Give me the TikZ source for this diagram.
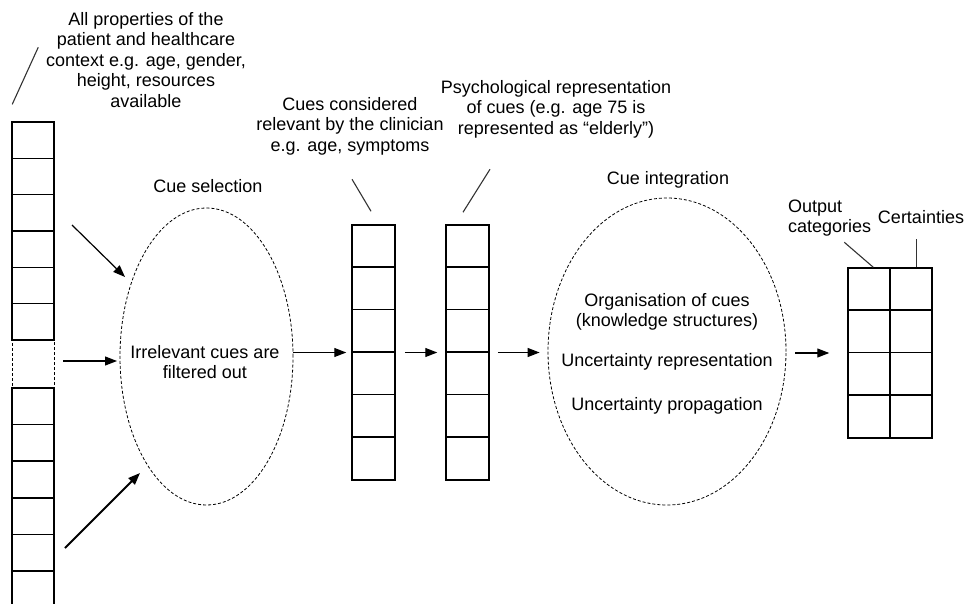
\documentclass[tikz,border=0pt]{standalone}
\usepackage{fontspec}
\setmainfont{Liberation Sans}
\usetikzlibrary{shapes.geometric,arrows.meta}
\tikzset{
	cell/.style={draw,line width=1.5pt},
	cue/.style={ellipse,draw,line width=0.8pt,dash pattern=on 3pt off 2pt},
	txt/.style={align=center,inner sep=0pt,font=\fontsize{18}{20.5}\selectfont},
	flow/.style={-{Triangle[length=12pt,width=9pt]},line width=1.2pt},
	lead/.style={line width=1.1pt,black!80},
}
\begin{document}
\begin{tikzpicture}[x=1pt,y=-1pt]
	\useasboundingbox (0,0) rectangle (968,604);
	\node[draw,line width=0.8pt,dash pattern=on 3pt off 2pt,minimum width=42pt,minimum height=48pt] (gap) at (33,364) {};
	\foreach \i in {0,...,5}
	\node[cell,minimum width=42pt,minimum height=36.3pt] (p\i) at (33,{140.2+36.3*\i}) {};
	\foreach \i in {0,...,5}
	\node[cell,minimum width=42pt,minimum height=36.6pt] (q\i) at (33,{406.3+36.6*\i}) {};
	\node[cue,minimum width=173pt,minimum height=297pt] (sel) at (206.5,356.5) {};
	\node[cue,minimum width=238pt,minimum height=307pt] (integ) at (667,351.5) {};
	\node[cell,minimum width=43pt,minimum height=255pt] (rel) at (373.5,352.5) {};
	\node[cell,minimum width=43pt,minimum height=255pt] (psy) at (467.5,352.5) {};
	\foreach \k in {1,...,5}{
		\draw[cell] (rel.north west) ++(0,{42.5*\k}) -- ++(43,0);
		\draw[cell] (psy.north west) ++(0,{42.5*\k}) -- ++(43,0);
	}
	\node[cell,minimum width=84pt,minimum height=170pt] (out) at (890,353) {};
	\draw[cell] (out.north) -- (out.south);
	\foreach \k in {1,2,3}
	\draw[cell] (out.north west) ++(0,{42.5*\k}) -- ++(84,0);
	\node[txt] (all) at (146,60) {All properties of the\\patient and healthcare\\context e.g. age, gender,\\height, resources\\available};
	\node[txt] (selt) at (208,186) {Cue selection};
	\node[txt] (filt) at (205,362) {Irrelevant cues are\\filtered out};
	\node[txt] (relt) at (350,126) {Cues considered\\relevant by the clinician\\e.g. age, symptoms};
	\node[txt] (psyt) at (556,109) {Psychological representation\\of cues (e.g. age 75 is\\represented as ``elderly'')};
	\node[txt] (intt) at (668,180) {Cue integration};
	\node[txt] (org) at (667,312) {Organisation of cues\\(knowledge structures)};
	\node[txt] (unr) at (667,362) {Uncertainty representation};
	\node[txt] (unp) at (667,406) {Uncertainty propagation};
	\node[txt,align=left,anchor=west] (cat) at (788,218) {Output\\categories};
	\node[txt] (cer) at (921,217) {Certainties};
	\coordinate (s1) at (72,225);
	\coordinate (e1) at (125,277);
	\coordinate (s2) at (63,361);
	\coordinate (e2) at (117,361);
	\coordinate (s3) at (65,548);
	\coordinate (e3) at (140,473);
	\draw[flow] (s1) -- (e1);
	\draw[flow] (s2) -- (e2);
	\draw[flow,line width=2pt] (s3) -- (e3);
	\draw[flow,shorten >=5pt] (rel.west -| sel.east) -- (rel.west);
	\draw[flow,shorten <=9pt,shorten >=8pt] (rel.east) -- (psy.west);
	\draw[flow,shorten <=8pt,shorten >=8pt] (psy.east) -- (psy.east -| integ.west);
	\draw[flow,shorten <=9pt,shorten >=18pt] (out.west -| integ.east) -- (out.west);
	\draw[lead] (p0.north west) ++(1,-17) -- ++(26,-57);
	\draw[lead] (rel.north) ++(-2.5,-13) -- ++(-19,-32);
	\draw[lead] (psy.north) ++(-4.5,-12) -- ++(27,-43);
	\draw[lead] (out.north west) ++(26,0) -- ++(-29,-25);
	\draw[lead] (out.north east) ++(-16,0) -- ++(0,-28);
\end{tikzpicture}
\end{document}
